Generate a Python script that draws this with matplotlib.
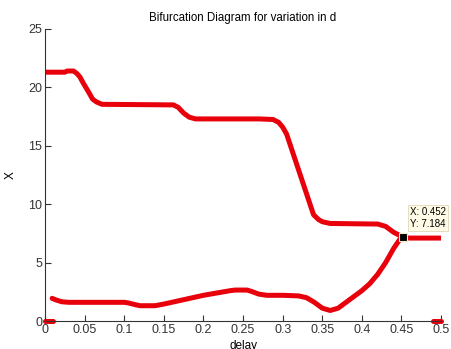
import matplotlib
matplotlib.use("Agg")
import matplotlib.pyplot as plt

plt.rcParams['font.family'] = ['Liberation Sans', 'DejaVu Sans']

# upper branch (delay, X)
up_d = [0.0, 0.025, 0.028, 0.036, 0.04, 0.044, 0.048, 0.055, 0.06, 0.065, 0.072, 0.162,
        0.168, 0.175, 0.182, 0.19, 0.27, 0.288, 0.295, 0.3, 0.305, 0.339, 0.345,
        0.35, 0.36, 0.42, 0.43, 0.44, 0.452, 0.46, 0.5]
up_x = [21.3, 21.3, 21.4, 21.4, 21.2, 20.9, 20.4, 19.6, 19.0, 18.75, 18.55, 18.5,
        18.3, 17.8, 17.45, 17.3, 17.3, 17.25, 17.0, 16.6, 16.0, 9.1, 8.7,
        8.5, 8.35, 8.3, 8.1, 7.6, 7.18, 7.1, 7.1]

# lower branch
lo_d = [0.009, 0.014, 0.021, 0.03, 0.05, 0.1, 0.105, 0.115, 0.12, 0.139, 0.15, 0.17,
        0.2, 0.234, 0.24, 0.255, 0.26, 0.27, 0.28, 0.3, 0.32, 0.33, 0.34, 0.35, 0.36,
        0.37, 0.38, 0.39, 0.4, 0.41, 0.42, 0.43, 0.44, 0.448, 0.452]
lo_x = [1.94, 1.8, 1.65, 1.6, 1.6, 1.6, 1.55, 1.38, 1.31, 1.31, 1.45, 1.75,
        2.2, 2.6, 2.65, 2.65, 2.55, 2.3, 2.2, 2.2, 2.15, 2.0, 1.6, 1.1, 0.9,
        1.1, 1.6, 2.1, 2.6, 3.2, 4.0, 5.0, 6.2, 7.0, 7.18]

# zero segments at the ends
z1_d = [0.0, 0.01]
z2_d = [0.49, 0.5]
z_x = [0, 0]

tip_d, tip_x = 0.452, 7.184

fig = plt.figure(figsize=(4.51, 3.49), dpi=100)
ax = fig.add_axes([0.0998, 0.0802, 0.8782, 0.8368])

red = '#e8000b'
ax.plot(up_d, up_x, color=red, lw=3.6, solid_capstyle='round')
ax.plot(lo_d, lo_x, color=red, lw=3.6, solid_capstyle='round')
ax.plot(z1_d, z_x, color=red, lw=3.6, solid_capstyle='round', clip_on=False)
ax.plot(z2_d, z_x, color=red, lw=3.6, solid_capstyle='round', clip_on=False)

ax.plot([tip_d], [tip_x], 's', color='black', ms=5.5, mec='#f5e9c0', mew=0.8, zorder=5)
ax.annotate('X: 0.452\nY: 7.184', xy=(tip_d, tip_x), xytext=(5, 6), textcoords='offset points',
            fontsize=7, va='bottom', ha='left', linespacing=1.2,
            bbox=dict(boxstyle='square,pad=0.25', fc='#fffbe6', ec='#e0d8b8', lw=0.6),
            annotation_clip=False, zorder=6)

ax.set_xlim(0, 0.5)
ax.set_ylim(0, 25)
ax.set_xticks([0, 0.05, 0.1, 0.15, 0.2, 0.25, 0.3, 0.35, 0.4, 0.45, 0.5])
ax.set_xticklabels(['0', '0.05', '0.1', '0.15', '0.2', '0.25', '0.3', '0.35', '0.4', '0.45', '0.5'])
ax.set_yticks([0, 5, 10, 15, 20, 25])
ax.spines['top'].set_visible(False)
ax.spines['right'].set_visible(False)
for s in ['left', 'bottom']:
    ax.spines[s].set_color('#333333')
    ax.spines[s].set_linewidth(0.8)
ax.tick_params(direction='in', length=4, labelsize=9, colors='#333333', pad=2)

ax.set_title('Bifurcation Diagram for variation in d', fontsize=8.3, pad=6)
ax.set_xlabel('delay', fontsize=8.5, labelpad=3)
ax.set_ylabel('X', fontsize=8.5, labelpad=8)

fig.savefig('out.png', dpi=100)
